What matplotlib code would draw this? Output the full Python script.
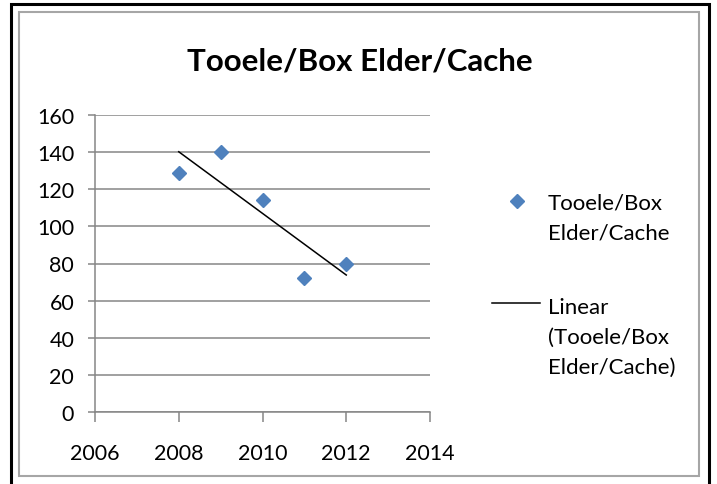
import numpy as np
import matplotlib
matplotlib.use("Agg")
import matplotlib.pyplot as plt
from matplotlib.lines import Line2D
from matplotlib.patches import Rectangle

# ---- data ----
years = [2008, 2009, 2010, 2011, 2012]
values = [129, 140, 114, 72, 80]
title = "Tooele/Box Elder/Cache"
series_label = ["Tooele/Box", "Elder/Cache"]
trend_label = ["Linear", "(Tooele/Box", "Elder/Cache)"]
x_ticks = [2006, 2008, 2010, 2012, 2014]
y_ticks = [0, 20, 40, 60, 80, 100, 120, 140, 160]

W, H = 717, 485
plt.rcParams['font.family'] = ['Lato', 'DejaVu Sans']
fig = plt.figure(figsize=(W / 100, H / 100), dpi=100)

def fx(px):
    return px / W

def fy(py):
    return 1 - py / H

grid_col = '#868686'
blue = '#4F81BD'

# frames
fig.patches.append(Rectangle((fx(11), fy(490)), fx(709) - fx(11), fy(5) - fy(490),
                             transform=fig.transFigure, fill=False, ec='black', lw=2.2))
fig.patches.append(Rectangle((fx(19), fy(477)), fx(699) - fx(19), fy(13) - fy(477),
                             transform=fig.transFigure, fill=False, ec='#a6a6a6', lw=1.5))

ax = fig.add_axes([fx(95), fy(413), fx(430) - fx(95), fy(116) - fy(413)])
ax.set_xlim(x_ticks[0], x_ticks[-1])
ax.set_ylim(y_ticks[0], y_ticks[-1])
ax.set_xticks(x_ticks)
ax.set_yticks(y_ticks)
ax.yaxis.grid(True, color=grid_col, lw=1.1)
ax.set_axisbelow(True)
for s in ['top', 'right']:
    ax.spines[s].set_visible(False)
for s in ['left', 'bottom']:
    ax.spines[s].set_color(grid_col)
    ax.spines[s].set_linewidth(1.1)
ax.tick_params(axis='x', direction='out', length=7, width=1.1, color=grid_col,
               labelsize=15.5, pad=15)
ax.tick_params(axis='y', direction='out', length=5, width=1.1, color=grid_col,
               labelsize=15.5, pad=10)

ax.plot(years, values, linestyle='none', marker='D', markersize=7.5,
        color=blue, clip_on=False, zorder=3)
coef = np.polyfit(years, values, 1)
tx = np.array([years[0], years[-1]])
ax.plot(tx, np.polyval(coef, tx), color='black', lw=1.1, zorder=2)

fig.text(fx(360), fy(71), title, ha='center', va='baseline',
         fontsize=22.5, fontweight='bold')

# legend (manual)
fig.lines.append(Line2D([fx(517)], [fy(202)], transform=fig.transFigure,
                        marker='D', markersize=7.5, color=blue, linestyle='none'))
fig.lines.append(Line2D([fx(492), fx(540)], [fy(304), fy(304)],
                        transform=fig.transFigure, color='black', lw=1.1))
for i, t in enumerate(series_label):
    fig.text(fx(548), fy(210 + 30 * i), t, ha='left', va='baseline', fontsize=16)
for i, t in enumerate(trend_label):
    fig.text(fx(548), fy(314 + 30 * i), t, ha='left', va='baseline', fontsize=16)

fig.savefig('out.png', dpi=100)
